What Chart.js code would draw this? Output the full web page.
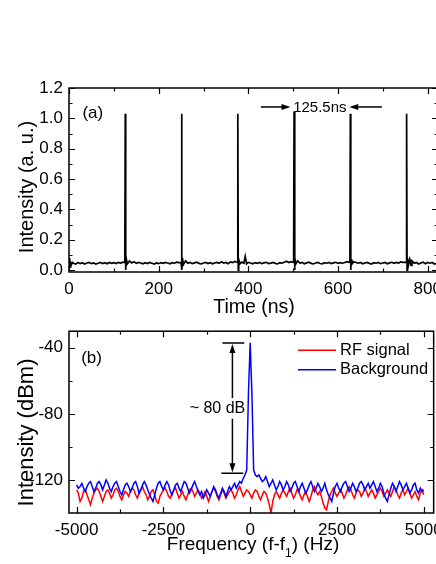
<!DOCTYPE html>
<html>
<head>
<meta charset="utf-8">
<script src="https://cdn.jsdelivr.net/npm/chart.js@4.4.0/dist/chart.umd.min.js"></script>
<style>
  html, body { margin: 0; padding: 0; background: #fff; overflow: hidden; width: 436px; height: 564px; }
  canvas { position: absolute; left: 0; }
  #pulseChart { top: 0; }
  #rfChart { top: 315px; }
</style>
</head>
<body>
<canvas id="pulseChart" width="450" height="320"></canvas>
<canvas id="rfChart" width="450" height="249"></canvas>
<script>
// (a) pulse train
const timeNs = [
  0, 1, 2, 3, 4, 6, 8, 10, 15, 20, 25, 30, 35, 40, 45, 50, 55, 60, 65, 70, 75, 80, 85, 90, 95, 100, 105, 110, 115, 120,
  124.5, 125.5, 126.5, 127.5, 130, 135, 140, 145, 150, 155, 160, 165, 170, 175, 180, 185, 190, 195, 200, 205, 210, 215, 220, 225, 230, 235, 240, 245,
  250, 251, 252, 253, 255, 260, 265, 270, 275, 280, 285, 290, 295, 300, 305, 310, 315, 320, 325, 330, 335, 340, 345, 350, 355, 360, 365, 370,
  375.5, 376.5, 377.5, 378.5, 381, 385, 390, 393, 396, 400, 405, 410, 415, 420, 425, 430, 435, 440, 445, 450, 455, 460, 465, 470, 475, 480, 485, 490, 495,
  501, 502, 503, 504, 506, 510, 515, 520, 525, 530, 535, 540, 545, 550, 555, 560, 565, 570, 575, 580, 585, 590, 595, 600, 605, 610, 615, 620,
  626.5, 627.5, 628.5, 629.5, 631, 635, 640, 645, 650, 655, 660, 665, 670, 675, 680, 685, 690, 695, 700, 705, 710, 715, 720, 725, 730, 735, 740, 745,
  752, 753, 754, 755, 757, 760, 763, 765, 770, 775, 780, 785, 790, 795, 800, 805, 810, 815, 820
];
const intensityAU = [
  0.08, 0.03, 0.06, 0.02, 0.05, 0.04, 0.05, 0.045, 0.04, 0.05, 0.042, 0.048, 0.04, 0.046, 0.05, 0.042, 0.047, 0.04, 0.045, 0.05, 0.043, 0.048, 0.041, 0.05, 0.044, 0.049, 0.043, 0.05, 0.046, 0.052,
  0.05, 1.03, 0.0, 0.08, 0.04, 0.06, 0.047, 0.055, 0.044, 0.05, 0.046, 0.041, 0.048, 0.043, 0.05, 0.045, 0.04, 0.047, 0.042, 0.049, 0.044, 0.05, 0.046, 0.041, 0.048, 0.045, 0.052, 0.049,
  0.05, 1.03, 0.0, 0.08, 0.035, 0.06, 0.045, 0.05, 0.042, 0.047, 0.052, 0.044, 0.04, 0.046, 0.05, 0.043, 0.048, 0.041, 0.047, 0.05, 0.044, 0.055, 0.046, 0.05, 0.042, 0.054, 0.049, 0.057,
  0.05, 1.03, 0.0, 0.07, 0.04, 0.052, 0.045, 0.09, 0.04, 0.05, 0.046, 0.041, 0.049, 0.044, 0.05, 0.042, 0.047, 0.051, 0.043, 0.046, 0.05, 0.044, 0.04, 0.048, 0.045, 0.051, 0.058, 0.049, 0.055,
  0.05, 1.045, 0.0, 0.08, 0.04, 0.06, 0.046, 0.05, 0.041, 0.047, 0.052, 0.044, 0.04, 0.046, 0.05, 0.043, 0.041, 0.049, 0.045, 0.05, 0.042, 0.047, 0.051, 0.044, 0.049, 0.045, 0.05, 0.055,
  0.05, 1.03, 0.0, 0.07, 0.04, 0.055, 0.05, 0.045, 0.05, 0.041, 0.046, 0.05, 0.044, 0.04, 0.049, 0.045, 0.05, 0.042, 0.046, 0.05, 0.041, 0.047, 0.051, 0.044, 0.05, 0.046, 0.054, 0.05,
  0.05, 1.03, 0.0, 0.08, 0.03, 0.07, 0.03, 0.06, 0.045, 0.05, 0.04, 0.046, 0.052, 0.041, 0.05, 0.045, 0.05, 0.04, 0.045
];
const timeTicks = [0, 200, 400, 600, 800];
const timeMinorTicks = [100, 300, 500, 700];
const intensityTicks = [0, 0.2, 0.4, 0.6, 0.8, 1.0, 1.2];
const intensityMinorTicks = [0.1, 0.3, 0.5, 0.7, 0.9, 1.1];

// (b) RF spectrum, 50 Hz steps
const freqHz = [
  -5000, -4950, -4900, -4850, -4800, -4750, -4700, -4650, -4600, -4550,
  -4500, -4450, -4400, -4350, -4300, -4250, -4200, -4150, -4100, -4050,
  -4000, -3950, -3900, -3850, -3800, -3750, -3700, -3650, -3600, -3550,
  -3500, -3450, -3400, -3350, -3300, -3250, -3200, -3150, -3100, -3050,
  -3000, -2950, -2900, -2850, -2800, -2750, -2700, -2650, -2600, -2550,
  -2500, -2450, -2400, -2350, -2300, -2250, -2200, -2150, -2100, -2050,
  -2000, -1950, -1900, -1850, -1800, -1750, -1700, -1650, -1600, -1550,
  -1500, -1450, -1400, -1350, -1300, -1250, -1200, -1150, -1100, -1050,
  -1000, -950, -900, -850, -800, -750, -700, -650, -600, -550,
  -500, -450, -400, -350, -300, -250, -200, -150, -100, -50,
  0, 50, 100, 150, 200, 250, 300, 350, 400, 450,
  500, 550, 600, 650, 700, 750, 800, 850, 900, 950,
  1000, 1050, 1100, 1150, 1200, 1250, 1300, 1350, 1400, 1450,
  1500, 1550, 1600, 1650, 1700, 1750, 1800, 1850, 1900, 1950,
  2000, 2050, 2100, 2150, 2200, 2250, 2300, 2350, 2400, 2450,
  2500, 2550, 2600, 2650, 2700, 2750, 2800, 2850, 2900, 2950,
  3000, 3050, 3100, 3150, 3200, 3250, 3300, 3350, 3400, 3450,
  3500, 3550, 3600, 3650, 3700, 3750, 3800, 3850, 3900, 3950,
  4000, 4050, 4100, 4150, 4200, 4250, 4300, 4350, 4400, 4450,
  4500, 4550, 4600, 4650, 4700, 4750, 4800, 4850, 4900, 4950,
  5000
];
const rfSignalDbm = [
  -126, -128, -133, -131, -127, -126, -129, -132, -135, -131,
  -128, -126, -125, -127, -130, -133, -130, -127, -126, -128,
  -131, -129, -126, -125, -127, -130, -132, -129, -127, -128,
  -130, -127, -125, -126, -129, -131, -128, -126, -124, -127,
  -129, -132, -130, -127, -126, -129, -133, -134, -130, -128,
  -126, -125, -127, -130, -131, -128, -126, -125, -128, -131,
  -129, -127, -130, -132, -129, -126, -125, -127, -130, -128,
  -126, -128, -131, -129, -127, -130, -133, -130, -127, -125,
  -127, -130, -132, -129, -126, -128, -131, -129, -127, -126,
  -128, -131, -129, -126, -124, -127, -130, -128, -126, -127,
  -129, -131, -128, -126, -127, -130, -132, -129, -127, -128,
  -131, -135, -140, -133, -129, -127, -129, -131, -128, -126,
  -128, -130, -127, -125, -128, -131, -129, -126, -127, -130,
  -132, -129, -127, -130, -133, -130, -126, -124, -127, -129,
  -127, -130, -134, -137, -138, -133, -129, -127, -125, -128,
  -130, -128, -126, -128, -131, -129, -126, -124, -126, -129,
  -131, -128, -126, -127, -130, -128, -125, -127, -130, -128,
  -126, -128, -131, -129, -127, -125, -127, -130, -128, -126,
  -128, -130, -127, -124, -126, -129, -131, -128, -126, -129,
  -127, -125, -128, -131, -129, -127, -130, -132, -128, -126,
  -129
];
const backgroundDbm = [
  -123, -125, -124, -122, -125, -127, -124, -122, -121, -124,
  -127, -125, -122, -121, -123, -126, -123, -120, -122, -125,
  -127, -124, -122, -121, -124, -127, -129, -126, -123, -122,
  -124, -127, -125, -122, -121, -124, -128, -126, -123, -121,
  -123, -126, -129, -131, -133, -129, -125, -122, -121, -124,
  -126, -123, -121, -123, -127, -129, -126, -123, -122, -125,
  -127, -124, -121, -122, -125, -128, -126, -123, -121, -124,
  -127, -129, -127, -131, -129, -126, -128, -130, -127, -124,
  -126, -129, -131, -128, -125, -127, -130, -127, -124, -126,
  -124, -122, -125, -123, -121, -122, -119, -117, -114, -68,
  -37, -68, -114, -117, -118, -117, -119, -121, -120, -118,
  -121, -124, -122, -120, -123, -126, -124, -121, -123, -126,
  -124, -121, -123, -127, -125, -122, -121, -124, -127, -124,
  -122, -125, -128, -126, -123, -121, -124, -127, -125, -122,
  -124, -127, -125, -122, -126, -129, -131, -133, -128, -124,
  -122, -125, -127, -124, -122, -121, -124, -127, -125, -122,
  -124, -127, -125, -122, -121, -123, -126, -124, -122, -125,
  -123, -121, -124, -127, -125, -122, -124, -128, -131, -133,
  -129, -125, -122, -124, -127, -124, -121, -123, -126, -124,
  -122, -125, -128, -126, -123, -122, -126, -128, -125, -127,
  -126
];
const freqTicks = [-5000, -2500, 0, 2500, 5000];
const freqMinorTicks = [-3750, -1250, 1250, 3750];
const dbmTicks = [-40, -80, -120];
const dbmMinorTicks = [-60, -100];

const FONT = "'Liberation Sans', Arial, sans-serif";
Chart.defaults.font.family = FONT;
Chart.defaults.color = '#000';

function arrow(ctx, x1, y1, x2, y2) {
  const a = Math.atan2(y2 - y1, x2 - x1);
  ctx.beginPath();
  ctx.moveTo(x1, y1);
  ctx.lineTo(x2 - 6 * Math.cos(a), y2 - 6 * Math.sin(a));
  ctx.stroke();
  ctx.beginPath();
  ctx.moveTo(x2, y2);
  ctx.lineTo(x2 - 9 * Math.cos(a) + 3 * Math.sin(a), y2 - 9 * Math.sin(a) - 3 * Math.cos(a));
  ctx.lineTo(x2 - 9 * Math.cos(a) - 3 * Math.sin(a), y2 - 9 * Math.sin(a) + 3 * Math.cos(a));
  ctx.closePath();
  ctx.fill();
}

function vTitle(ctx, text, x, y, size) {
  ctx.save();
  ctx.translate(x, y);
  ctx.rotate(-Math.PI / 2);
  ctx.font = size + 'px ' + FONT;
  ctx.textAlign = 'center';
  ctx.textBaseline = 'alphabetic';
  ctx.fillText(text, 0, 0);
  ctx.restore();
}

// box, inward ticks on all four sides, then the per-chart extras
function frameDecor(cfg) {
  return {
    id: 'frameDecor',
    afterDatasetsDraw(chart) {
      const { ctx, chartArea: area, scales: { x, y } } = chart;
      ctx.save();
      ctx.strokeStyle = '#000';
      ctx.fillStyle = '#000';
      ctx.lineWidth = 1.2;
      ctx.beginPath();
      const xMarks = (vals, len) => vals.forEach(v => {
        const p = Math.round(x.getPixelForValue(v)) + 0.5;
        ctx.moveTo(p, area.bottom); ctx.lineTo(p, area.bottom - len);
        ctx.moveTo(p, area.top); ctx.lineTo(p, area.top + len);
      });
      const yMarks = (vals, len) => vals.forEach(v => {
        const p = Math.round(y.getPixelForValue(v)) + 0.5;
        ctx.moveTo(area.left, p); ctx.lineTo(area.left + len, p);
        ctx.moveTo(area.right, p); ctx.lineTo(area.right - len, p);
      });
      xMarks(cfg.xMajor, 6); xMarks(cfg.xMinor, 3.5);
      yMarks(cfg.yMajor, 6); yMarks(cfg.yMinor, 3.5);
      ctx.stroke();
      ctx.lineWidth = 1.5;
      ctx.strokeRect(area.left, area.top, area.right - area.left, area.bottom - area.top);
      cfg.extras(ctx, x, y, area, chart);
      ctx.restore();
    }
  };
}

const hiddenGrid = { display: false, tickLength: 0 };

new Chart(document.getElementById('pulseChart'), {
  type: 'line',
  data: {
    datasets: [{
      label: 'Intensity',
      data: timeNs.map((t, i) => ({ x: t, y: intensityAU[i] })),
      borderColor: '#000',
      borderWidth: 1.7,
      pointRadius: 0,
      tension: 0
    }]
  },
  options: {
    responsive: false,
    animation: false,
    layout: { padding: { top: 88, right: 12, left: 0, bottom: 18 } },
    plugins: { legend: { display: false }, tooltip: { enabled: false } },
    scales: {
      x: {
        type: 'linear', min: 0, max: 823,
        grid: hiddenGrid, border: { display: false },
        afterBuildTicks: s => { s.ticks = timeTicks.map(v => ({ value: v })); },
        afterFit: s => { s.height = 30; },
        ticks: { font: { size: 17 }, padding: 7, maxRotation: 0, autoSkip: false, callback: v => String(v) }
      },
      y: {
        min: -0.013, max: 1.2,
        grid: hiddenGrid, border: { display: false },
        afterBuildTicks: s => { s.ticks = intensityTicks.map(v => ({ value: v })); },
        afterFit: s => { s.width = 69; },
        ticks: { font: { size: 17 }, padding: 6, callback: v => v.toFixed(1) }
      }
    }
  },
  plugins: [frameDecor({
    xMajor: timeTicks, xMinor: timeMinorTicks, yMajor: intensityTicks, yMinor: intensityMinorTicks,
    extras(ctx, x, y) {
      ctx.font = '17px ' + FONT;
      ctx.textBaseline = 'alphabetic';
      ctx.textAlign = 'left';
      ctx.fillText('(a)', x.getPixelForValue(30), y.getPixelForValue(1.0));
      ctx.font = '15px ' + FONT;
      ctx.fillText('125.5ns', x.getPixelForValue(500), y.getPixelForValue(1.042));
      ctx.lineWidth = 1.5;
      const ay = y.getPixelForValue(1.075);
      arrow(ctx, x.getPixelForValue(428), ay, x.getPixelForValue(494), ay);
      arrow(ctx, x.getPixelForValue(698), ay, x.getPixelForValue(625), ay);
      ctx.font = '19.5px ' + FONT;
      ctx.textAlign = 'center';
      ctx.fillText('Time (ns)', 254, 313);
      vTitle(ctx, 'Intensity (a. u.)', 33, 187, 20);
    }
  })]
});

new Chart(document.getElementById('rfChart'), {
  type: 'line',
  data: {
    datasets: [
      {
        label: 'RF signal',
        data: freqHz.map((f, i) => ({ x: f, y: rfSignalDbm[i] })),
        borderColor: '#ff0000',
        borderWidth: 1.5,
        pointRadius: 0,
        tension: 0,
        order: 1
      },
      {
        label: 'Background',
        data: freqHz.map((f, i) => ({ x: f, y: backgroundDbm[i] })),
        borderColor: '#0000ff',
        borderWidth: 1.5,
        pointRadius: 0,
        tension: 0,
        order: 0
      }
    ]
  },
  options: {
    responsive: false,
    animation: false,
    layout: { padding: { top: 14, right: 12, left: 0, bottom: 21 } },
    plugins: { legend: { display: false }, tooltip: { enabled: false } },
    scales: {
      x: {
        type: 'linear', min: -5219, max: 5285,
        grid: hiddenGrid, border: { display: false },
        afterBuildTicks: s => { s.ticks = freqTicks.map(v => ({ value: v })); },
        afterFit: s => { s.height = 30; },
        ticks: { font: { size: 17 }, padding: 7, maxRotation: 0, autoSkip: false, callback: v => String(v) }
      },
      y: {
        min: -140, max: -30,
        grid: hiddenGrid, border: { display: false },
        afterBuildTicks: s => { s.ticks = dbmTicks.map(v => ({ value: v })); },
        afterFit: s => { s.width = 69; },
        ticks: { font: { size: 17 }, padding: 6, callback: v => String(v) }
      }
    }
  },
  plugins: [frameDecor({
    xMajor: freqTicks, xMinor: freqMinorTicks, yMajor: dbmTicks, yMinor: dbmMinorTicks,
    extras(ctx, x, y, area, chart) {
      ctx.font = '17px ' + FONT;
      ctx.textBaseline = 'alphabetic';
      ctx.textAlign = 'left';
      ctx.fillText('(b)', x.getPixelForValue(-4868), y.getPixelForValue(-49));

      // ~80 dB marker
      const mx = x.getPixelForValue(-512);
      const yTop = y.getPixelForValue(-37.2), yBot = y.getPixelForValue(-115.9);
      ctx.lineWidth = 1.5;
      ctx.beginPath();
      ctx.moveTo(x.getPixelForValue(-800), yTop); ctx.lineTo(x.getPixelForValue(-170), yTop);
      ctx.moveTo(x.getPixelForValue(-830), yBot); ctx.lineTo(x.getPixelForValue(-200), yBot);
      ctx.stroke();
      arrow(ctx, mx, y.getPixelForValue(-70.5), mx, yTop + 1);
      arrow(ctx, mx, y.getPixelForValue(-83), mx, yBot - 1);
      ctx.font = '16px ' + FONT;
      ctx.textAlign = 'right';
      ctx.fillText('~ 80 dB', x.getPixelForValue(-142), y.getPixelForValue(-79.6));

      // legend
      ctx.textAlign = 'left';
      ctx.textBaseline = 'middle';
      ctx.font = '16.5px ' + FONT;
      chart.data.datasets.forEach((ds, i) => {
        const ly = area.top + 19 + i * 19.5;
        ctx.strokeStyle = ds.borderColor;
        ctx.lineWidth = 1.5;
        ctx.beginPath();
        ctx.moveTo(298, ly); ctx.lineTo(336, ly);
        ctx.stroke();
        ctx.fillText(ds.label, 340, ly);
      });

      // axis titles
      ctx.textBaseline = 'alphabetic';
      ctx.font = '19px ' + FONT;
      const p1 = 'Frequency (f-f', p3 = ') (Hz)';
      const w1 = ctx.measureText(p1).width, w3 = ctx.measureText(p3).width;
      ctx.font = '12px ' + FONT;
      const w2 = ctx.measureText('1').width;
      let tx = 253 - (w1 + w2 + w3) / 2;
      ctx.font = '19px ' + FONT;
      ctx.fillText(p1, tx, 235);
      ctx.font = '12px ' + FONT;
      ctx.fillText('1', tx + w1, 242);
      ctx.font = '19px ' + FONT;
      ctx.fillText(p3, tx + w1 + w2, 235);
      vTitle(ctx, 'Intensity (dBm)', 33, 117.5, 22);
    }
  })]
});
</script>
</body>
</html>
